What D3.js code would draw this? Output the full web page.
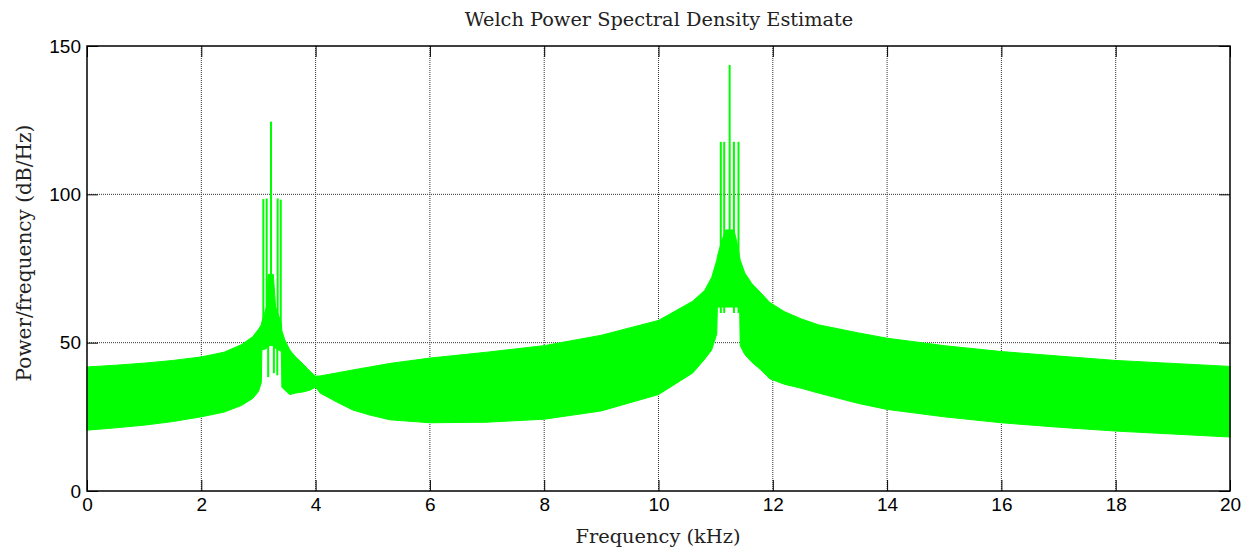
<!DOCTYPE html>
<html>
<head>
<meta charset="utf-8">
<script src="https://cdn.jsdelivr.net/npm/d3@7"></script>
<style>
  body { margin: 0; background: #fff; }
  .tick text { font-family: "Liberation Sans", Arial, sans-serif; font-size: 19px; fill: #000; }
  .grid line { stroke: #333; stroke-width: 1; stroke-dasharray: 1,1; }
  .axisLbl { font-family: "DejaVu Serif", "Liberation Serif", serif; fill: #222; }
</style>
</head>
<body>
<svg></svg>
<script>
// frequency grid of the band envelope (kHz)
var freqs = [0, 0.5, 1, 1.5, 2, 2.4, 2.7, 2.9, 3.0, 3.05,
  3.06, 3.14, 3.17, 3.26, 3.30, 3.40, 3.41, 3.46, 3.55, 3.65, 3.78, 3.9, 4.0,
  4.08, 4.37, 4.65, 4.95, 5.3, 6, 7, 8, 9, 10, 10.6, 10.81, 10.93, 11.02,
  11.03, 11.10, 11.18, 11.32, 11.37, 11.42, 11.43, 11.51, 11.63, 11.78, 11.95,
  12.2, 12.5, 12.8, 13.5, 14, 15, 16, 17, 18, 19, 20];
// upper edge of the green band (dB/Hz)
var upperDb = [41.8, 42.4, 43.1, 44.0, 45.2, 46.8, 49.3, 52.0, 54.5, 56.0,
  57.0, 62.0, 73.0, 73.0, 62.0, 56.5, 54.0, 51.0, 47.5, 45.2, 42.8, 40.4, 38.7,
  38.8, 39.8, 40.8, 41.8, 43.0, 44.8, 46.8, 49.0, 52.5, 57.5, 64.0, 67.7, 72.0, 77.8,
  79.0, 84.0, 88.0, 88.0, 84.0, 79.0, 77.8, 73.5, 70.0, 67.0, 63.5,
  60.5, 58.0, 56.0, 53.3, 51.5, 49.0, 47.0, 45.5, 44.0, 43.0, 42.0];
// lower edge of the green band (dB/Hz)
var lowerDb = [20.5, 21.3, 22.2, 23.4, 25.0, 26.6, 28.8, 31.2, 33.5, 36.5,
  47.5, 48.0, 49.0, 49.0, 48.0, 47.0, 35.0, 34.0, 32.5, 33.0, 33.4, 34.0, 35.0,
  33.0, 30.0, 27.3, 25.6, 24.0, 23.0, 23.2, 24.2, 27.0, 32.5, 39.8, 44.5, 47.5, 53.0,
  62.0, 62.0, 62.0, 62.0, 62.0, 62.0, 49.0, 46.0, 43.5, 41.0, 37.8,
  36.0, 34.6, 33.0, 29.5, 27.5, 25.0, 23.0, 21.5, 20.2, 19.2, 18.2];

// narrow spectral lines (kHz, bottom dB, top dB)
var spikeFreq = [3.085, 3.144, 3.22, 3.336, 3.39, 3.17, 3.27, 3.33,
  11.09, 11.15, 11.245, 11.32, 11.40];
var spikeLow  = [50, 50, 55, 50, 50, 38.4, 39.7, 39, 60, 60, 70, 60, 60];
var spikeHigh = [98.4, 98.6, 124.5, 98.6, 98.2, 50, 50, 50,
  117.7, 117.7, 143.6, 117.7, 117.7];

var xTicks = [0, 2, 4, 6, 8, 10, 12, 14, 16, 18, 20];
var yTicks = [0, 50, 100, 150];

var svgWidth = 1250, svgHeight = 549;
var plotLeft = 87, plotTop = 46, plotRight = 1230, plotBottom = 491;
var tickLen = 11;

var svg = d3.select('svg')
    .attr("width", svgWidth)
    .attr("height", svgHeight);

var x = d3.scaleLinear().domain([0, 20]).range([plotLeft, plotRight]);
var y = d3.scaleLinear().domain([0, 150]).range([plotBottom, plotTop]);

// grid
var grid = svg.append("g").attr("class", "grid");
grid.selectAll("line.vx")
    .data(xTicks.slice(1, -1))
    .enter()
    .append("line")
    .attr("x1", function(d) { return x(d); })
    .attr("x2", function(d) { return x(d); })
    .attr("y1", plotTop)
    .attr("y2", plotBottom);
grid.selectAll("line.hy")
    .data(yTicks.slice(1, -1))
    .enter()
    .append("line")
    .attr("x1", plotLeft)
    .attr("x2", plotRight)
    .attr("y1", function(d) { return y(d); })
    .attr("y2", function(d) { return y(d); });

// band
var band = freqs.map(function(f, i) { return [f, lowerDb[i], upperDb[i]]; });
var area = d3.area()
    .x(function(d) { return x(d[0]); })
    .y0(function(d) { return y(d[1]); })
    .y1(function(d) { return y(d[2]); });

svg.append("path")
    .datum(band)
    .attr("d", area)
    .attr("fill", "#00ff00")
    .attr("stroke", "#00ff00")
    .attr("stroke-width", 1);

// spectral lines
svg.selectAll("line.spike")
    .data(spikeFreq)
    .enter()
    .append("line")
    .attr("class", "spike")
    .attr("x1", function(d) { return x(d); })
    .attr("x2", function(d) { return x(d); })
    .attr("y1", function(d, i) { return y(spikeLow[i]); })
    .attr("y2", function(d, i) { return y(spikeHigh[i]); })
    .attr("stroke", "#00ff00")
    .attr("stroke-width", 2);

// axes, ticks pointing inwards on all four sides
function styleAxis(g) {
    g.select(".domain").remove();
    g.selectAll(".tick line").attr("stroke", "#000");
}

svg.append("g")
    .attr("transform", "translate(0," + plotBottom + ")")
    .call(d3.axisBottom(x).tickValues(xTicks).tickSize(-tickLen).tickPadding(7))
    .call(styleAxis);
svg.append("g")
    .attr("transform", "translate(0," + plotTop + ")")
    .call(d3.axisTop(x).tickValues(xTicks).tickSize(-tickLen).tickFormat(""))
    .call(styleAxis);
svg.append("g")
    .attr("transform", "translate(" + plotLeft + ",0)")
    .call(d3.axisLeft(y).tickValues(yTicks).tickSize(-tickLen).tickPadding(6))
    .call(styleAxis);
svg.append("g")
    .attr("transform", "translate(" + plotRight + ",0)")
    .call(d3.axisRight(y).tickValues(yTicks).tickSize(-tickLen).tickFormat(""))
    .call(styleAxis);

svg.append("rect")
    .attr("x", plotLeft)
    .attr("y", plotTop)
    .attr("width", plotRight - plotLeft)
    .attr("height", plotBottom - plotTop)
    .attr("fill", "none")
    .attr("stroke", "#000")
    .attr("stroke-width", 1.5);

// labels
function fitText(sel, width) {
    var w = sel.node().getComputedTextLength();
    var fs = parseFloat(sel.attr("font-size"));
    sel.attr("font-size", fs * width / w);
}

svg.append("text")
    .attr("class", "axisLbl")
    .attr("x", (plotLeft + plotRight) / 2 + 0.5)
    .attr("y", 26)
    .attr("text-anchor", "middle")
    .attr("font-size", 18)
    .text("Welch Power Spectral Density Estimate")
    .call(fitText, 389);

svg.append("text")
    .attr("class", "axisLbl")
    .attr("x", 658)
    .attr("y", 543)
    .attr("text-anchor", "middle")
    .attr("font-size", 18)
    .text("Frequency (kHz)")
    .call(fitText, 165);

svg.append("text")
    .attr("class", "axisLbl")
    .attr("transform", "translate(31,253) rotate(-90)")
    .attr("text-anchor", "middle")
    .attr("font-size", 18)
    .text("Power/frequency (dB/Hz)")
    .call(fitText, 257);
</script>
</body>
</html>
